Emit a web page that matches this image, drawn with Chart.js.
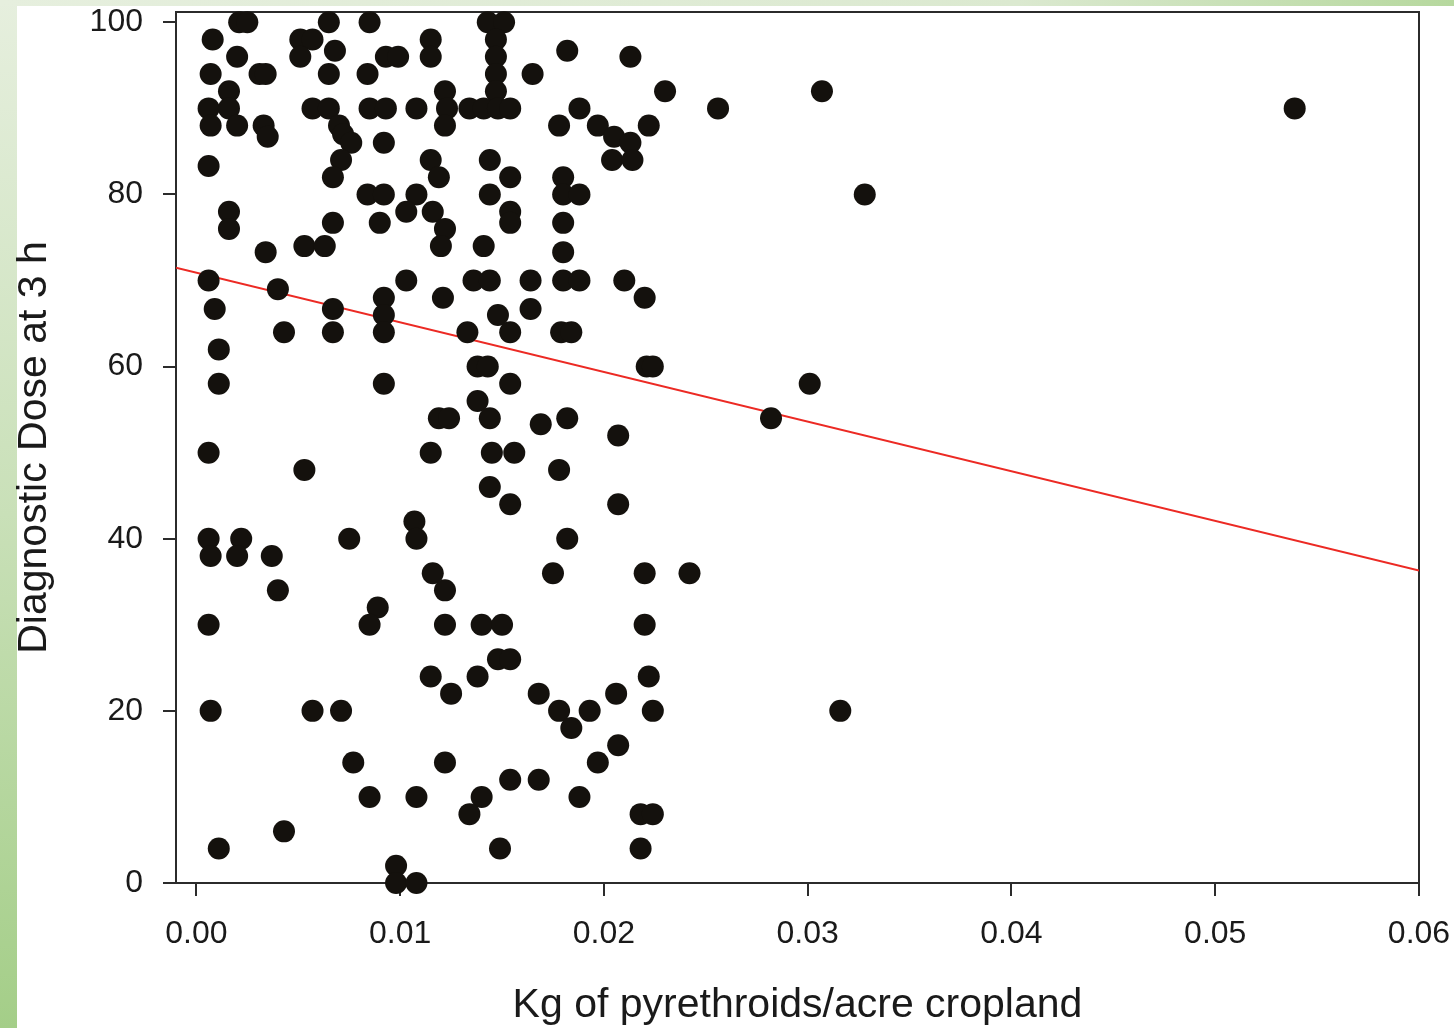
<!DOCTYPE html>
<html>
<head>
<meta charset="utf-8">
<script src="https://cdn.jsdelivr.net/npm/chart.js@4.4.1/dist/chart.umd.min.js"></script>
<style>
  html, body { margin: 0; padding: 0; background: #fff; overflow: hidden; }
  #wrap { position: relative; width: 1454px; height: 1028px; }
  #leftBand { position: absolute; left: 0; top: 0; width: 17px; height: 1028px;
    background: linear-gradient(to bottom, #e6efde 0%, #c9e0b8 50%, #a4ce88 100%); }
  #topBand { position: absolute; left: 0; top: 0; width: 1454px; height: 6px;
    background: linear-gradient(to right, #e6efde 0%, #dbe9d0 70%, #b6d89e 100%); }
  canvas { position: absolute; left: 0; top: 0; }
</style>
</head>
<body>
<div id="wrap">
  <div id="leftBand"></div>
  <div id="topBand"></div>
  <canvas id="myChart" width="1454" height="1028"></canvas>
</div>
<script>
// kg of pyrethroids per acre cropland (x) and diagnostic dose at 3 h (y), one entry per dot
const pyrethroidKg = [
  0.0021, 0.0025, 0.0065, 0.0085, 0.0143, 0.0151,
  0.0008, 0.0051, 0.0057, 0.0115, 0.0147,
  0.0020, 0.0051, 0.0068, 0.0093, 0.0099, 0.0115, 0.0147, 0.0182, 0.0213,
  0.0007, 0.0031, 0.0034, 0.0065, 0.0084, 0.0147, 0.0165,
  0.0016, 0.0122, 0.0147, 0.0230, 0.0307,
  0.0006, 0.0016, 0.0057, 0.0065, 0.0085, 0.0093, 0.0108, 0.0123, 0.0134, 0.0141, 0.0148, 0.0154, 0.0188, 0.0256, 0.0539,
  0.0007, 0.0020, 0.0033, 0.0070, 0.0122, 0.0178, 0.0197, 0.0222,
  0.0035, 0.0072, 0.0076, 0.0092, 0.0205, 0.0213,
  0.0071, 0.0115, 0.0144, 0.0204, 0.0214,
  0.0006,
  0.0067, 0.0119, 0.0154, 0.0180,
  0.0084, 0.0092, 0.0108, 0.0144, 0.0180, 0.0188, 0.0328,
  0.0016, 0.0103, 0.0116, 0.0154,
  0.0016, 0.0067, 0.0090, 0.0122, 0.0154, 0.0180,
  0.0053, 0.0063, 0.0120, 0.0141,
  0.0034, 0.0180,
  0.0006, 0.0103, 0.0136, 0.0144, 0.0164, 0.0180, 0.0188, 0.0210,
  0.0040,
  0.0092, 0.0121, 0.0220,
  0.0009, 0.0067, 0.0092, 0.0148, 0.0164,
  0.0043, 0.0067, 0.0092, 0.0133, 0.0154, 0.0179, 0.0184,
  0.0011,
  0.0138, 0.0143, 0.0221, 0.0224,
  0.0011, 0.0092, 0.0154, 0.0301,
  0.0138,
  0.0119, 0.0124, 0.0144, 0.0182, 0.0282,
  0.0169,
  0.0207,
  0.0006, 0.0115, 0.0145, 0.0156,
  0.0053, 0.0178,
  0.0144,
  0.0154, 0.0207,
  0.0107,
  0.0006, 0.0022, 0.0075, 0.0108, 0.0182,
  0.0007, 0.0020, 0.0037,
  0.0116, 0.0175, 0.0220, 0.0242,
  0.0040, 0.0122,
  0.0089,
  0.0006, 0.0085, 0.0122, 0.0140, 0.0150, 0.0220,
  0.0148, 0.0154,
  0.0115, 0.0138, 0.0222,
  0.0125, 0.0168, 0.0206,
  0.0007, 0.0057, 0.0071, 0.0178, 0.0193, 0.0224, 0.0316,
  0.0184,
  0.0207,
  0.0077, 0.0122, 0.0197,
  0.0154, 0.0168,
  0.0085, 0.0108, 0.0140, 0.0188,
  0.0134, 0.0218, 0.0224,
  0.0043,
  0.0011, 0.0149, 0.0218,
  0.0098,
  0.0098, 0.0108
];
const diagnosticDose = [
  100, 100, 100, 100, 100, 100,
  98, 98, 98, 98, 98,
  96, 96, 96.7, 96, 96, 96, 96, 96.7, 96,
  94, 94, 94, 94, 94, 94, 94,
  92, 92, 92, 92, 92,
  90, 90, 90, 90, 90, 90, 90, 90, 90, 90, 90, 90, 90, 90, 90,
  88, 88, 88, 88, 88, 88, 88, 88,
  86.7, 87, 86, 86, 86.7, 86,
  84, 84, 84, 84, 84,
  83.3,
  82, 82, 82, 82,
  80, 80, 80, 80, 80, 80, 80,
  78, 78, 78, 78,
  76, 76.7, 76.7, 76, 76.7, 76.7,
  74, 74, 74, 74,
  73.3, 73.3,
  70, 70, 70, 70, 70, 70, 70, 70,
  69,
  68, 68, 68,
  66.7, 66.7, 66, 66, 66.7,
  64, 64, 64, 64, 64, 64, 64,
  62,
  60, 60, 60, 60,
  58, 58, 58, 58,
  56,
  54, 54, 54, 54, 54,
  53.3,
  52,
  50, 50, 50, 50,
  48, 48,
  46,
  44, 44,
  42,
  40, 40, 40, 40, 40,
  38, 38, 38,
  36, 36, 36, 36,
  34, 34,
  32,
  30, 30, 30, 30, 30, 30,
  26, 26,
  24, 24, 24,
  22, 22, 22,
  20, 20, 20, 20, 20, 20, 20,
  18,
  16,
  14, 14, 14,
  12, 12,
  10, 10, 10, 10,
  8, 8, 8,
  6,
  4, 4, 4,
  2,
  0, 0
];

// end points of the red fitted line
const fitKg = [-0.001, 0.06];
const fitDose = [71.5, 36.3];

const xTicks = [0, 0.01, 0.02, 0.03, 0.04, 0.05, 0.06];
const yTicks = [0, 20, 40, 60, 80, 100];

const FONT = "'Liberation Sans', Arial, sans-serif";
const AXIS_COLOR = '#2b2b2b';

// box around the plot (top and right sides)
const frame = {
    id: 'frame',
    beforeDatasetsDraw(chart) {
        const { ctx, chartArea: a } = chart;
        ctx.save();
        ctx.strokeStyle = AXIS_COLOR;
        ctx.lineWidth = 2;
        ctx.beginPath();
        ctx.moveTo(a.left, a.top);
        ctx.lineTo(a.right, a.top);
        ctx.lineTo(a.right, a.bottom);
        ctx.stroke();
        ctx.restore();
    }
};

new Chart('myChart', {
    type: 'scatter',
    data: {
        datasets: [{
            label: 'Sites',
            data: pyrethroidKg.map((x, i) => ({ x: x, y: diagnosticDose[i] })),
            backgroundColor: '#14110d',
            borderWidth: 0,
            pointRadius: 11,
            pointHoverRadius: 11,
            clip: false,
            order: 1
        }, {
            label: 'Fit',
            type: 'line',
            data: fitKg.map((x, i) => ({ x: x, y: fitDose[i] })),
            borderColor: '#ec2a24',
            borderWidth: 2,
            pointRadius: 0,
            fill: false,
            order: 2
        }]
    },
    options: {
        responsive: false,
        animation: false,
        layout: { padding: { left: 0, top: 12, right: 35, bottom: 0 } },
        plugins: { legend: { display: false }, tooltip: { enabled: false } },
        scales: {
            x: {
                type: 'linear',
                min: -0.001,
                max: 0.06,
                afterBuildTicks: axis => { axis.ticks = xTicks.map(v => ({ value: v })); },
                afterFit: axis => {
                    axis.height = 145;
                    axis.paddingLeft = 0;
                    axis.paddingRight = 0;
                },
                border: { color: AXIS_COLOR, width: 2 },
                grid: { drawOnChartArea: false, tickLength: 13, tickColor: AXIS_COLOR, lineWidth: 2 },
                ticks: {
                    padding: 19,
                    color: '#1a1a1a',
                    font: { family: FONT, size: 32 },
                    maxRotation: 0,
                    callback: v => v.toFixed(2)
                },
                title: {
                    display: true,
                    text: 'Kg of pyrethroids/acre cropland',
                    color: '#1a1a1a',
                    font: { family: FONT, size: 41 },
                    padding: { top: 0, bottom: -2 }
                }
            },
            y: {
                type: 'linear',
                min: 0,
                max: 101.2,
                afterBuildTicks: axis => { axis.ticks = yTicks.map(v => ({ value: v })); },
                afterFit: axis => {
                    axis.width = 176;
                    axis.paddingTop = 0;
                    axis.paddingBottom = 0;
                },
                border: { color: AXIS_COLOR, width: 2 },
                grid: { drawOnChartArea: false, tickLength: 13, tickColor: AXIS_COLOR, lineWidth: 2 },
                ticks: {
                    padding: 20,
                    color: '#1a1a1a',
                    font: { family: FONT, size: 32 },
                    callback: v => String(v)
                },
                title: {
                    display: true,
                    text: 'Diagnostic Dose at 3 h',
                    color: '#1a1a1a',
                    font: { family: FONT, size: 41 },
                    padding: { top: 10, bottom: 0 }
                }
            }
        }
    },
    plugins: [frame]
});
</script>
</body>
</html>
